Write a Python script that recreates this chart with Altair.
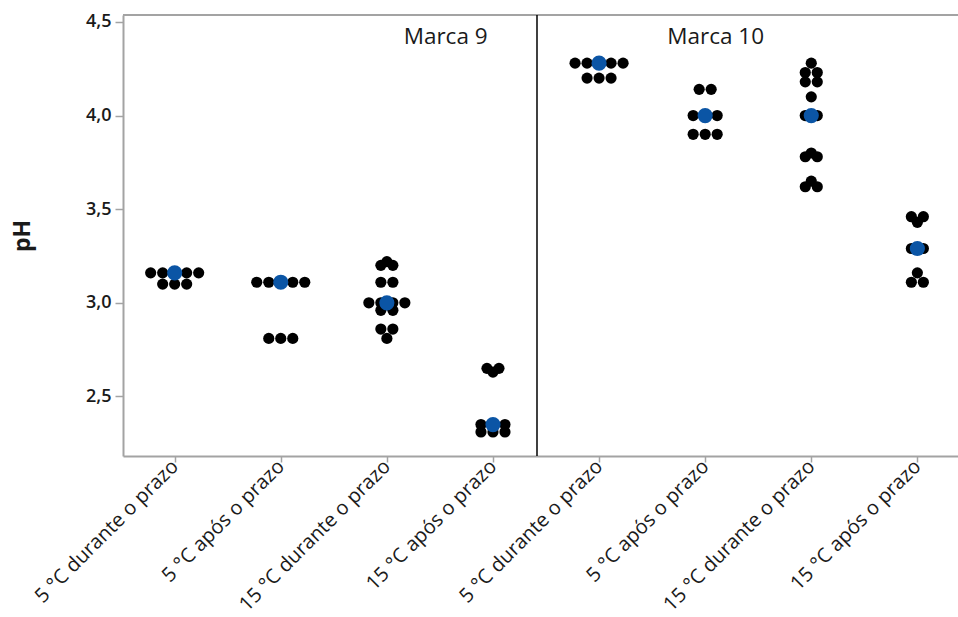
import json
import altair as alt
import pandas as pd

# Storage conditions, repeated for each brand
conditions = [
    "5 °C durante o prazo",
    "5 °C após o prazo",
    "15 °C durante o prazo",
    "15 °C após o prazo",
]
brands = ["Marca 9", "Marca 10"]
categories = conditions + conditions

# Individual pH readings per brand / condition
marca9_5c_durante = [3.16, 3.16, 3.16, 3.16, 3.16, 3.10, 3.10, 3.10]
marca9_5c_apos = [3.11, 3.11, 3.11, 3.11, 3.11, 2.81, 2.81, 2.81]
marca9_15c_durante = [3.22, 3.20, 3.20, 3.11, 3.11, 3.00, 3.00, 3.00, 3.00,
                      2.96, 2.96, 2.86, 2.86, 2.81]
marca9_15c_apos = [2.65, 2.65, 2.63, 2.35, 2.35, 2.35, 2.31, 2.31, 2.31]
marca10_5c_durante = [4.28, 4.28, 4.28, 4.28, 4.28, 4.20, 4.20, 4.20]
marca10_5c_apos = [4.14, 4.14, 4.00, 4.00, 4.00, 3.90, 3.90, 3.90]
marca10_15c_durante = [4.28, 4.23, 4.23, 4.18, 4.18, 4.10, 4.00, 4.00,
                       3.80, 3.78, 3.78, 3.65, 3.62, 3.62]
marca10_15c_apos = [3.46, 3.46, 3.43, 3.29, 3.29, 3.16, 3.11, 3.11]

groups = [
    marca9_5c_durante, marca9_5c_apos, marca9_15c_durante, marca9_15c_apos,
    marca10_5c_durante, marca10_5c_apos, marca10_15c_durante, marca10_15c_apos,
]

y_ticks = [2.5, 3.0, 3.5, 4.0, 4.5]

# Layout
W, H = 835, 441
X_DOMAIN = [-0.487, 7.383]
Y_DOMAIN = [2.182, 4.537]
PX_PER_UNIT = W / (X_DOMAIN[1] - X_DOMAIN[0])
DOT_GAP_PX = 12.0  # horizontal spacing between tied dots
FRAME = "#a3a3a3"
FONT = "Open Sans"

# Dot-plot layout: readings with the same value are spread side by side
rows = []
for gi, vals in enumerate(groups):
    counts = {}
    for v in vals:
        counts[v] = counts.get(v, 0) + 1
    for v, k in counts.items():
        for j in range(k):
            off = (j - (k - 1) / 2) * DOT_GAP_PX / PX_PER_UNIT
            rows.append({"grupo": gi, "ph": v, "xpos": gi + off,
                         "marca": brands[gi // 4], "condicao": categories[gi]})
df = pd.DataFrame(rows)

label_expr = json.dumps(categories, ensure_ascii=False) + "[datum.value]"

x_scale = alt.Scale(domain=X_DOMAIN, nice=False, zero=False)
y_scale = alt.Scale(domain=Y_DOMAIN, nice=False, zero=False)

x_axis = alt.Axis(
    values=list(range(len(categories))), labelExpr=label_expr, title=None,
    labelAngle=-45, labelAlign="right", labelBaseline="middle",
    labelFont=FONT, labelFontSize=20, labelColor="#1a1a1a",
    tickSize=6, labelPadding=1, grid=False, labelOverlap=False, labelLimit=0,
)
y_axis = alt.Axis(
    values=y_ticks, labelExpr="replace(format(datum.value, '.1f'), '.', ',')",
    title="pH", titleFont=FONT, titleFontSize=23, titleFontWeight="bold",
    titleColor="#1a1a1a", titleAngle=270, titleX=-101, titleY=H / 2,
    titleAlign="center", titleBaseline="middle",
    labelFont=FONT, labelFontSize=18, labelFontWeight=600, labelColor="#1a1a1a",
    tickSize=8, labelPadding=4, grid=False,
)

base = alt.Chart(df)

dots = base.mark_circle(size=125, color="black", opacity=1).encode(
    x=alt.X("xpos:Q", scale=x_scale, axis=x_axis),
    y=alt.Y("ph:Q", scale=y_scale, axis=y_axis),
)

medians = base.transform_aggregate(
    mediana="median(ph)", groupby=["grupo"]
).mark_circle(size=230, color="#0b55a5", opacity=1).encode(
    x=alt.X("grupo:Q", scale=x_scale),
    y=alt.Y("mediana:Q", scale=y_scale),
)

# Vertical divider between the two brands
divider = alt.Chart(pd.DataFrame({"pos": [3.415]})).mark_rule(
    color="black", strokeWidth=1.5
).encode(x=alt.X("pos:Q", scale=x_scale))

# Top edge of the frame
top_edge = alt.Chart(pd.DataFrame({"a": [0]})).mark_rule(
    color=FRAME, strokeWidth=2
).encode(x=alt.value(0), x2=alt.value(W), y=alt.value(0))

# Brand names
brand_labels = alt.Chart(pd.DataFrame({
    "marca": brands, "lx": [2.554, 5.099], "ly": [4.382, 4.382],
})).mark_text(font=FONT, fontSize=22.5, color="#1a1a1a", align="center",
              baseline="alphabetic").encode(
    x=alt.X("lx:Q", scale=x_scale),
    y=alt.Y("ly:Q", scale=y_scale),
    text="marca:N",
)

chart = alt.layer(top_edge, divider, dots, medians, brand_labels).properties(
    width=W, height=H,
    autosize=alt.AutoSizeParams(type="none"),
    padding={"left": 123, "top": 15, "right": 0, "bottom": 161},
    background="white",
).configure_view(stroke=None).configure_axis(
    domainColor=FRAME, domainWidth=2, tickColor=FRAME, tickWidth=1.5,
)

chart.save("out.html", embed_options={"renderer": "svg", "actions": False})
